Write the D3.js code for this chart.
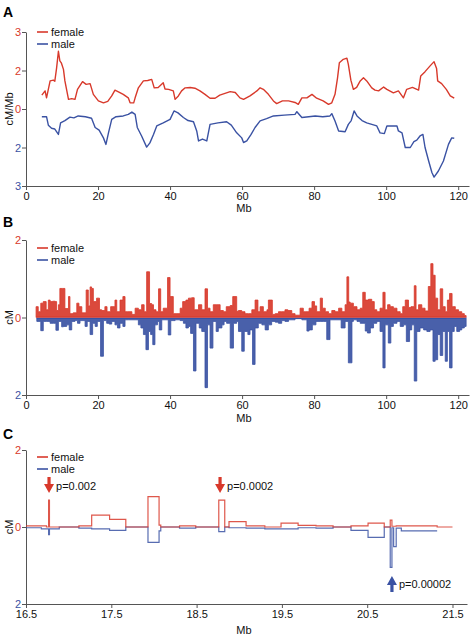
<!DOCTYPE html>
<html><head><meta charset="utf-8">
<script src="https://cdn.jsdelivr.net/npm/d3@7"></script>
<style>
body{margin:0;background:#fff}
svg{display:block}
text{font-family:"Liberation Sans",Arial,Helvetica,sans-serif}
</style>
</head><body>
<svg id="chart" width="471" height="635"></svg>
<script>
// ---------- DATA ----------
// Panel A: smoothed recombination rate (plotted in axis tick units; male drawn downward)
const aFemalePos = [4.4,5.3,5.7,6.7,7.6,8.0,8.5,9.0,9.4,9.8,10.4,10.8,11.8,12.7,13.6,14.3,15.7,16.7,17.8,18.7,20.1,21.5,22.7,23.8,24.7,25.8,27.0,28.4,28.9,29.9,30.3,31.2,32.6,33.8,34.9,35.6,36.7,38.1,38.6,39.6,40.9,41.4,42.3,43.2,44.2,45.6,46.9,48.3,49.7,51.1,52.5,53.8,56.7,58.1,59.4,60.4,62.2,64.1,65.0,65.9,67.3,68.7,69.6,71.2,72.9,74.7,75.6,76.6,78.0,79.4,80.7,82.5,84.0,84.9,85.8,86.5,87.0,88.1,89.1,89.5,90.2,90.9,91.8,92.8,93.7,94.6,96.0,96.9,97.9,99.3,100.2,102.0,103.4,104.8,105.7,107.3,109.0,109.6,110.8,112.2,113.3,114.0,114.3,115.4,116.7,117.8,118.9];
const aFemaleVal = [.36,.47,.29,.73,.75,.72,1.07,1.5,1.25,1.2,1.03,.73,.25,.27,.25,.51,.71,.64,.66,.38,.21,.16,.2,.34,.49,.44,.38,.29,.16,.16,.29,.55,.73,.74,.77,.55,.56,.68,.52,.51,.47,.25,.34,.47,.55,.56,.54,.47,.38,.28,.28,.36,.45,.43,.29,.25,.34,.47,.55,.51,.38,.21,.14,.21,.21,.17,.12,.29,.29,.38,.28,.21,.12,.16,.38,.81,1.2,1.29,1.32,1.16,.75,.51,.56,.73,.81,.73,.55,.49,.47,.57,.51,.42,.47,.29,.51,.56,.49,.86,.97,1.12,1.23,1.05,.73,.66,.51,.34,.28];
const aMalePos = [4.4,5.7,6.2,7.1,8.0,9.0,9.6,10.8,12.2,13.3,14.5,16.5,18.2,19.2,20.3,21.5,22.2,22.9,23.8,25.0,27.0,28.4,29.4,30.3,30.9,32.1,33.5,34.4,35.4,36.3,38.1,40.0,41.1,42.2,43.7,45.0,46.5,47.4,47.9,49.0,50.2,51.1,53.3,55.7,57.0,58.5,59.9,60.4,61.3,62.5,63.6,65.0,66.8,68.7,71.7,74.7,75.2,76.6,78.5,80.3,82.4,84.4,84.9,85.8,86.8,88.6,89.5,90.3,91.1,91.9,93.3,94.6,97.4,98.3,99.5,100.2,103.0,103.4,104.4,105.3,106.7,107.7,108.5,109.4,110.2,110.8,111.8,112.7,113.3,114.5,115.9,117.3,118.2,118.9];
const aMaleVal = [.2,.2,.42,.5,.52,.66,.36,.3,.21,.23,.18,.2,.24,.48,.55,.75,.92,.62,.27,.2,.18,.14,.08,.14,.48,.7,.99,.88,.66,.44,.36,.27,.05,.1,.22,.3,.33,.57,.83,.78,.83,.4,.36,.33,.42,.62,.75,.87,.83,.66,.48,.31,.25,.18,.16,.14,.07,.22,.2,.18,.2,.18,.12,.31,.57,.59,.4,.3,.05,.18,.3,.36,.44,.62,.64,.44,.44,.57,.62,1.0,1.0,.85,.81,.7,.66,1.0,1.35,1.65,1.77,1.61,1.35,.92,.75,.76];
const aTickVals = [2,1,0,-1,-2];
const aTickLabels = ["3","2","0","2","3"];

// Panel B: cM per marker interval (interval start in Mb)
const bFemalePos = [2.8,3.4,4.1,4.8,5.6,6.2,6.7,7.4,8.1,8.5,9.0,9.4,10.2,10.8,11.8,12.2,13.1,14.1,14.7,15.5,16.7,17.3,17.8,18.2,18.7,19.6,20.4,21.0,21.9,22.5,23.5,24.7,25.2,26.1,26.9,27.5,28.1,29.4,30.3,31.2,32.1,32.8,33.5,34.3,34.9,35.4,36.1,36.8,37.4,38.1,39.3,40.0,40.9,41.9,42.8,43.5,44.4,45.1,46.0,46.7,47.9,48.8,49.7,50.4,51.1,52.0,53.0,53.9,54.8,55.6,56.7,57.4,58.5,59.0,59.9,60.8,61.8,62.7,63.6,64.4,65.0,65.9,66.9,67.3,67.8,68.4,69.2,70.1,71.0,71.9,72.7,73.8,74.7,76.1,77.0,77.7,78.6,79.4,80.1,80.7,81.7,82.3,83.1,84.0,84.9,85.8,86.8,87.7,88.6,89.1,89.6,90.0,90.9,91.9,92.8,93.5,94.2,95.1,96.0,96.7,97.4,98.3,99.1,99.7,100.4,101.1,102.0,103.0,103.9,104.6,105.3,106.2,106.9,107.8,108.3,109.0,109.9,110.8,111.7,112.4,113.0,113.6,114.3,115.0,115.7,116.4,117.0,117.6,118.3,119.2,120.1,121.0,121.7];
const bFemaleVal = [.28,.15,.37,.41,.2,.45,.41,.42,.41,.18,.33,.75,.75,.23,.54,.1,.12,.37,.28,.12,.71,.3,.79,.75,.41,.5,.2,.18,.28,.15,.28,.45,.15,.45,.54,.15,.15,.08,.24,.2,.33,.15,1.18,.36,.33,.2,.15,.74,.15,.24,1.03,.54,.1,.1,.24,.41,.45,.5,.51,.2,.33,.2,.74,.24,.15,.33,.33,.18,.15,.28,.31,.54,.16,.18,.15,.1,.1,.2,.45,.15,.28,.15,.2,.45,.45,.08,.1,.15,.15,.2,.18,.1,.06,.24,.15,.15,.24,.41,.3,.15,.5,.24,.15,.1,.18,.15,.24,.15,.33,1.05,.4,.37,.28,.2,.24,.65,.45,.47,.41,.2,.15,.24,.65,.2,.33,.28,.24,.15,.1,.28,.45,.26,.28,.82,.2,.33,.24,.17,.8,1.39,1.09,.5,.2,.74,.28,.15,.45,.62,.28,.2,.15,.1,.05];
const bMalePos = [3.0,4.1,4.8,5.7,6.7,7.6,8.3,9.0,9.9,10.4,11.3,12.0,12.7,13.6,14.3,15.0,16.4,17.0,17.8,18.5,19.2,19.8,20.7,21.5,22.4,23.1,23.8,24.7,25.4,26.1,26.9,27.5,28.4,29.4,30.3,31.2,31.9,32.6,33.3,34.0,34.6,35.2,35.8,36.5,37.0,37.7,38.6,39.5,40.2,41.4,42.8,43.7,44.4,45.1,45.7,46.5,47.2,48.1,48.8,49.7,50.4,51.1,51.9,52.8,53.4,54.4,55.0,55.7,56.7,57.6,58.5,59.0,59.9,60.6,61.6,62.2,62.9,63.6,64.5,65.5,66.4,67.3,68.2,69.2,70.1,71.0,71.9,72.9,74.7,76.6,78.0,78.6,79.5,80.5,81.7,82.6,83.5,84.4,85.8,87.5,88.6,89.5,90.5,90.9,91.9,92.8,94.2,94.8,95.6,96.5,97.4,98.3,99.1,99.7,100.6,101.3,102.0,103.0,103.9,104.8,105.6,106.5,107.1,107.8,108.5,109.4,110.4,111.3,112.2,113.0,113.6,114.3,115.0,115.7,116.4,117.0,117.6,118.3,118.9,119.6,120.4,121.0,121.7];
const bMaleVal = [.1,.34,.1,.1,.15,.15,.33,.1,.24,.23,.19,.32,.1,.08,.15,.08,.23,.1,.44,.15,.23,.1,1.0,.08,.15,.17,.1,.19,.27,.15,.23,.06,.06,.06,.06,.19,.27,.44,.83,.36,.44,.7,.19,.1,.32,.06,.06,.45,.08,.06,.08,.15,.27,.23,.41,1.38,.15,.27,.36,1.81,.19,.79,.1,.36,.27,.19,.1,.15,.79,.15,.1,.36,.87,.36,.44,.32,1.21,.27,.15,.19,.32,.19,.1,.12,.15,.08,.1,.06,.03,.06,.35,.32,.19,.1,.1,.1,.57,.06,.06,.27,.1,1.17,.1,.06,.1,.15,.35,.4,.27,.15,.1,.36,1.3,.19,.66,.23,.15,.1,.23,.19,.62,.32,.19,1.64,.36,.27,.32,.36,.32,1.13,1.09,.44,.98,.36,1.13,.36,1.3,.36,.23,.36,.32,.27,.23];
const bTickVals = [2,0,-2];
const bTickLabels = ["2","0","2"];

// Panel C: 16.5-21.5 Mb detail, cM per interval (interval starts; last value is end)
const cBreaks  = [16.50,16.68,16.74,16.765,16.775,16.89,17.12,17.27,17.48,17.67,17.93,18.06,18.08,18.30,18.49,18.76,18.83,18.88,19.08,19.30,19.49,19.69,19.90,20.10,20.31,20.51,20.70,20.77,20.79,20.81,20.84,20.90,21.32,21.50];
const cFemale  = [.03,.03,0,.7,0,0,.03,.31,.2,0,.79,.05,0,.03,0,.7,0,.14,.03,0,.1,.04,.03,0,.03,.1,0,.18,.02,.02,.03,.03,0];
const cMale    = [.02,.05,.05,.2,.05,0,.03,.05,.09,0,.4,.1,0,.03,0,.12,0,.02,.03,.05,.05,.02,.03,0,.09,.27,0,1.05,.02,.51,.03,.1,0];
const cTickVals = [2,0,-2];
const cTickLabels = ["2","0","2"];
const cXTicks = [16.5,17.5,18.5,19.5,20.5,21.5];
const cArrows = [
  {pos:16.77, tip:0.88, dir:"down", label:"p=0.002", color:"female"},
  {pos:18.775, tip:0.88, dir:"down", label:"p=0.0002", color:"female"},
  {pos:20.79, tip:-1.27, dir:"up", label:"p=0.00002", color:"male"}
];
const abXTicks = [0,20,40,60,80,100,120];

// ---------- STYLE ----------
const RED = "#d8392b", BLUE = "#3a52a3", AXIS = "#555";
const svg = d3.select("#chart");

function drawYAxis(scale, vals, labels, title) {
  const g = svg.append("g").attr("transform","translate(26,0)")
    .call(d3.axisLeft(scale).tickValues(vals).tickFormat((d,i)=>labels[i]).tickSize(4).tickSizeOuter(0));
  g.select(".domain").attr("stroke",AXIS);
  g.selectAll(".tick line").attr("stroke",AXIS);
  g.selectAll(".tick text").attr("font-size",11).attr("x",-5)
    .attr("fill",d=> d>=0 ? RED : BLUE)
    .attr("font-family",'"Liberation Sans",Arial,sans-serif');
  const r = scale.range();
  svg.append("text").attr("transform",`translate(13,${(r[0]+r[1])/2}) rotate(-90)`)
    .attr("text-anchor","middle").attr("font-size",11).attr("fill","#111").text(title);
}
function drawXAxis(scale, y, vals, fmt, titleY) {
  const g = svg.append("g").attr("transform",`translate(0,${y})`)
    .call(d3.axisBottom(scale).tickValues(vals).tickFormat(fmt).tickSize(4).tickSizeOuter(0));
  g.select(".domain").attr("stroke",AXIS);
  g.selectAll(".tick line").attr("stroke",AXIS);
  g.selectAll(".tick text").attr("font-size",11).attr("fill","#111").attr("dy","0.68em")
    .attr("font-family",'"Liberation Sans",Arial,sans-serif');
  svg.append("text").attr("x",244).attr("y",titleY)
    .attr("text-anchor","middle").attr("font-size",11).attr("fill","#111").text("Mb");
}
function legend(y) {
  [["female",RED],["male",BLUE]].forEach((d,i)=>{
    svg.append("line").attr("x1",37).attr("x2",48).attr("y1",y+i*12).attr("y2",y+i*12)
      .attr("stroke",d[1]).attr("stroke-width",1.6);
    svg.append("text").attr("x",51).attr("y",y+i*12+4).attr("font-size",11).attr("fill","#111").text(d[0]);
  });
}
function panelLabel(t,y){
  svg.append("text").attr("x",3).attr("y",y).attr("font-size",14).attr("font-weight","bold").attr("fill","#000").text(t);
}

// ---------- PANEL A ----------
const xA = d3.scaleLinear([0,123],[26,469]);
const yA = d3.scaleLinear([-2,2],[186,32]);
panelLabel("A",17);
drawYAxis(yA, aTickVals, aTickLabels, "cM/Mb");
drawXAxis(xA, 186, abXTicks, d=>d, 212);
const lineA = d3.line().x(d=>xA(d[0])).y(d=>yA(d[1]));
svg.append("path").datum(aFemalePos.map((p,i)=>[p,aFemaleVal[i]]))
  .attr("d",lineA).attr("fill","none").attr("stroke",RED).attr("stroke-width",1.4).attr("stroke-linejoin","round");
svg.append("path").datum(aMalePos.map((p,i)=>[p,-aMaleVal[i]]))
  .attr("d",lineA).attr("fill","none").attr("stroke",BLUE).attr("stroke-width",1.4).attr("stroke-linejoin","round");
legend(32);

// ---------- PANEL B ----------
const xB = d3.scaleLinear([0,123],[26,469]);
const yB = d3.scaleLinear([-2,2],[395,240]);
panelLabel("B",227);
drawYAxis(yB, bTickVals, bTickLabels, "cM");
drawXAxis(xB, 395, abXTicks, d=>d, 422);
function stepData(pos, val, sign, endPad) {
  const pts = [[pos[0],0]];
  pos.forEach((p,i)=>pts.push([p, sign*val[i]]));
  const end = pos[pos.length-1] + endPad;
  pts.push([end, sign*val[val.length-1]]);
  pts.push([end, 0]);
  return pts;
}
function drawBars(x, y, pos, val, sign, color) {
  const pts = stepData(pos, val, sign, 0.5);
  const area = d3.area().curve(d3.curveStepAfter).x(d=>x(d[0])).y0(y(0)).y1(d=>y(d[1]));
  const line = d3.line().curve(d3.curveStepAfter).x(d=>x(d[0])).y(d=>y(d[1]));
  svg.append("path").datum(pts).attr("d",area).attr("fill",color).attr("fill-opacity",0.92);
  svg.append("path").datum(pts).attr("d",line).attr("fill","none").attr("stroke",color).attr("stroke-width",0.8);
}
drawBars(xB, yB, bMalePos, bMaleVal, -1, BLUE);
drawBars(xB, yB, bFemalePos, bFemaleVal, 1, RED);
svg.append("line").attr("x1",xB(3)).attr("x2",xB(122)).attr("y1",yB(0)+1).attr("y2",yB(0)+1).attr("stroke",BLUE).attr("stroke-width",1.2);
svg.append("line").attr("x1",xB(2.8)).attr("x2",xB(122)).attr("y1",yB(0)-0.5).attr("y2",yB(0)-0.5).attr("stroke",RED).attr("stroke-width",1.2);
legend(248);

// ---------- PANEL C ----------
const xC = d3.scaleLinear([16.5,21.67],[26,467]);
const yC = d3.scaleLinear([-2,2],[604,450]);
panelLabel("C",439);
drawYAxis(yC, cTickVals, cTickLabels, "cM");
drawXAxis(xC, 604, cXTicks, d=>d.toFixed(1), 634);
function cSteps(vals, sign, lastIdx) {
  const pts = [];
  for (let i=0;i<=lastIdx;i++) pts.push([cBreaks[i], sign*vals[i]]);
  pts.push([cBreaks[lastIdx+1], sign*vals[lastIdx]]);
  return pts;
}
const cLine = d3.line().curve(d3.curveStepAfter).x(d=>xC(d[0])).y(d=>yC(d[1]));
svg.append("path").datum(cSteps(cMale,-1,cMale.length-2)).attr("d",cLine)
  .attr("fill","none").attr("stroke",BLUE).attr("stroke-width",1.2).attr("stroke-opacity",0.85);
svg.append("path").datum(cSteps(cFemale,1,cFemale.length-1)).attr("d",cLine)
  .attr("fill","none").attr("stroke",RED).attr("stroke-width",1.2).attr("stroke-opacity",0.85);
legend(457);

cArrows.forEach(a=>{
  const col = a.color==="female" ? RED : BLUE;
  const x = xC(a.pos), t = yC(a.tip);
  const s = a.dir==="down" ? -1 : 1;
  const headL = 9, headW = 5, shaftW = 1.6, total = 16;
  const p = d3.path();
  p.moveTo(x, t);
  p.lineTo(x-headW, t+s*headL);
  p.lineTo(x-shaftW, t+s*headL);
  p.lineTo(x-shaftW, t+s*total);
  p.lineTo(x+shaftW, t+s*total);
  p.lineTo(x+shaftW, t+s*headL);
  p.lineTo(x+headW, t+s*headL);
  p.closePath();
  svg.append("path").attr("d",p.toString()).attr("fill",col);
  const ty = a.dir==="down" ? t-3 : t+12;
  svg.append("text").attr("x",x+7).attr("y",ty).attr("font-size",11).attr("fill","#111").text(a.label);
});
</script>
</body></html>
